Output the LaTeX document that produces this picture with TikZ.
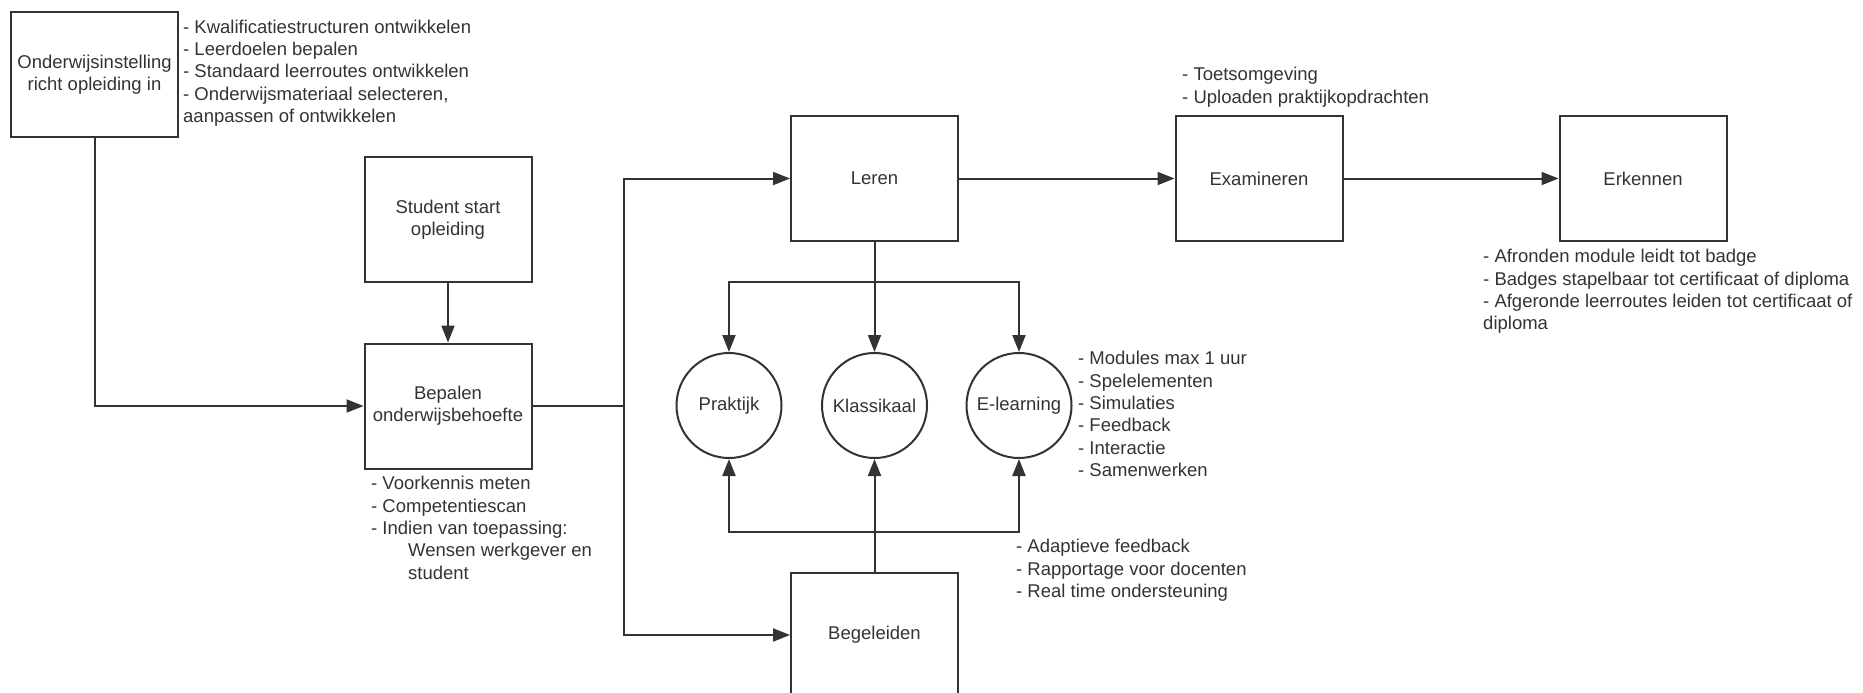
\documentclass[tikz,border=0pt]{standalone}
\usepackage{fontspec}
\setmainfont{Liberation Sans}
\usetikzlibrary{arrows.meta}
\definecolor{ink}{HTML}{333333}

\begin{document}
\begin{tikzpicture}[x=1pt,y=-1pt,
  every node/.style={font=\fontsize{18.5}{22.4}\selectfont, text=ink},
  box/.style={draw=ink, line width=2pt, minimum width=167pt, minimum height=125pt, inner sep=0pt, align=center},
  disc/.style={circle, draw=ink, line width=2pt, minimum size=105pt, inner sep=0pt},
  note/.style={anchor=north west, inner sep=0pt, align=left},
  link/.style={draw=ink, line width=2pt},
  arr/.style={link, -{Triangle[length=17pt,width=13pt]}}]

\useasboundingbox (0,0) rectangle (1863,693);

% process steps
\node[box] (inst)   at (94.5,74.5)  {Onderwijsinstelling\\richt opleiding in};
\node[box] (start)  at (448,219.5)  {Student start\\opleiding};
\node[box] (need)   at (448,406)    {Bepalen\\onderwijsbehoefte};
\node[box] (learn)  at (874.5,178.5) {Leren};
\node[box] (exam)   at (1259,178.5)  {Examineren};
\node[box] (recog)  at (1643,178.5)  {Erkennen};
\node[box] (guide)  at (874.5,635)   {Begeleiden};

% forms of learning
\node[disc] (prak)   at (729,405.5)   {Praktijk};
\node[disc] (klas)   at (874.5,405.5) {Klassikaal};
\node[disc] (elearn) at (1019,405.5)  {E-learning};

% connectors
\draw[arr] (inst.south) |- (need.west);
\draw[arr] (start.south) -- (need.north);
\coordinate (split) at (624,406);
\draw[link] (need.east) -- (split);
\draw[arr] (split) |- (learn.west);
\draw[arr] (split) |- (guide.west);

\coordinate (fanout) at (874.5,282);
\draw[link] (learn.south) -- (fanout);
\draw[arr] (fanout) -- (klas.north);
\draw[arr] (fanout) -| (prak.north);
\draw[arr] (fanout) -| (elearn.north);

\coordinate (fanin) at (874.5,532);
\draw[link] (guide.north) -- (fanin);
\draw[arr] (fanin) -- (klas.south);
\draw[arr] (fanin) -| (prak.south);
\draw[arr] (fanin) -| (elearn.south);

\draw[arr] (learn.east) -- (exam.west);
\draw[arr] (exam.east) -- (recog.west);

% annotations
\node[note] (instnote) at (183,19.5) {- Kwalificatiestructuren ontwikkelen\\- Leerdoelen bepalen\\- Standaard leerroutes ontwikkelen\\- Onderwijsmateriaal selecteren,\\aanpassen of ontwikkelen};
\node[note] (neednote) at (371,476) {- Voorkennis meten\\- Competentiescan\\- Indien van toepassing:\\\hspace*{37pt}Wensen werkgever en\\\hspace*{37pt}student};
\node[note] (examnote) at (1182,67) {- Toetsomgeving\\- Uploaden praktijkopdrachten};
\node[note] (recognote) at (1483,249) {- Afronden module leidt tot badge\\- Badges stapelbaar tot certificaat of diploma\\- Afgeronde leerroutes leiden tot certificaat of\\diploma};
\node[note] (elearnnote) at (1078,351) {- Modules max 1 uur\\- Spelelementen\\- Simulaties\\- Feedback\\- Interactie\\- Samenwerken};
\node[note] (guidenote) at (1016,539) {- Adaptieve feedback\\- Rapportage voor docenten\\- Real time ondersteuning};
\end{tikzpicture}
\end{document}
